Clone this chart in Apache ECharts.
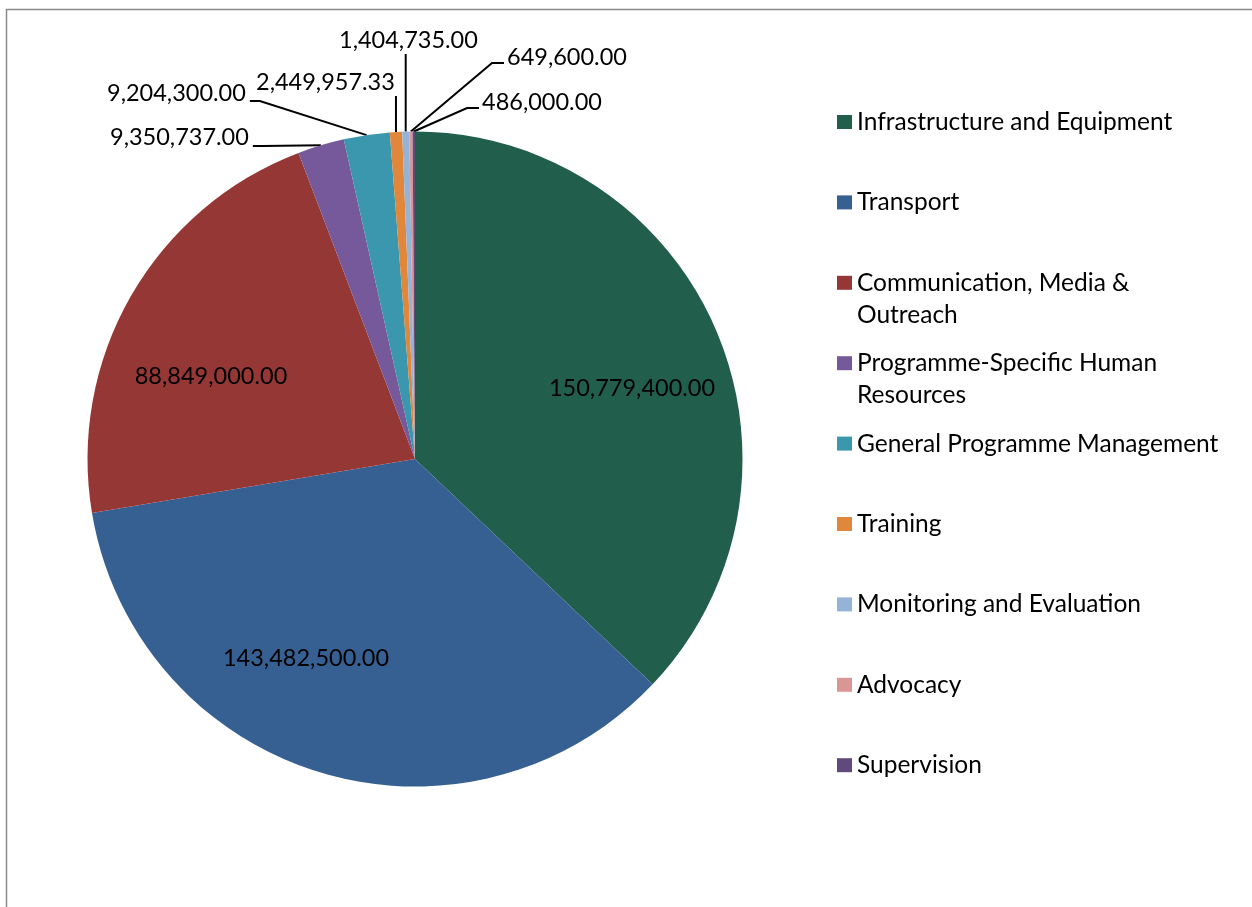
<!DOCTYPE html>
<html>
<head>
<meta charset="utf-8">
<script src="https://cdn.jsdelivr.net/npm/echarts@6/dist/echarts.min.js"></script>
<style>
  html, body { margin: 0; padding: 0; background: #fff; }
  #chart { width: 1252px; height: 907px; }
</style>
</head>
<body>
<div id="chart"></div>
<script>
const categories = [
  'Infrastructure and Equipment',
  'Transport',
  'Communication, Media & Outreach',
  'Programme-Specific Human Resources',
  'General Programme Management',
  'Training',
  'Monitoring and Evaluation',
  'Advocacy',
  'Supervision'
];
const amounts = [150779400, 143482500, 88849000, 9350737, 9204300, 2449957.33, 1404735, 649600, 486000];
const colors = ['#215e4b', '#376092', '#953735', '#76599a', '#3a97ad', '#e0873b', '#95b3d7', '#d99694', '#604a7b'];

// legend lines that wrap onto a second line
// (leading blank line keeps the marker level with the first line)
const wrapped = {
  'Communication, Media & Outreach': '\nCommunication, Media &\nOutreach',
  'Programme-Specific Human Resources': '\nProgramme-Specific Human\nResources'
};

// where each value label sits (text centre y); line: how the leader leaves the label
const labelSpots = [
  { x: 632, y: 388, align: 'center' },
  { x: 306, y: 658, align: 'center' },
  { x: 211, y: 376, align: 'center' },
  { x: 110, y: 137, align: 'left', line: 'right', dy: 9 },
  { x: 107, y: 93, align: 'left', line: 'right', dy: 8 },
  { x: 256, y: 82, align: 'left', line: 'down' },
  { x: 339, y: 40, align: 'left', line: 'down' },
  { x: 507, y: 57, align: 'left', line: 'left', dy: 6 },
  { x: 482, y: 102, align: 'left', line: 'left', dy: 6 }
];

const font = 'Lato, "Open Sans", sans-serif';
const fmt = v => v.toLocaleString('en-US', { minimumFractionDigits: 2, maximumFractionDigits: 2 });

const chart = echarts.init(document.getElementById('chart'));

const legendFirst = 122, legendStep = 80.4;

chart.setOption({
  backgroundColor: '#fff',
  animation: false,
  color: colors,
  graphic: [{
    type: 'rect',
    shape: { x: 6.5, y: 9.5, width: 1400, height: 1000 },
    style: { fill: 'none', stroke: '#8a8a8a', lineWidth: 1.5 },
    silent: true
  }],
  legend: categories.map((name, i) => {
    const two = !!wrapped[name];
    const center = legendFirst + i * legendStep;
    return {
      data: [name],
      left: 837,
      top: center - (two ? 48 : 16),
      padding: 0,
      icon: 'rect',
      itemWidth: 15,
      itemHeight: 14,
      selectedMode: false,
      formatter: n => wrapped[n] || n,
      textStyle: {
        fontFamily: font,
        fontSize: 24.5,
        color: '#000',
        lineHeight: 32
      }
    };
  }),
  series: [{
    type: 'pie',
    center: [415, 459],
    radius: 327.5,
    startAngle: 90,
    clockwise: true,
    avoidLabelOverlap: false,
    emphasis: { disabled: true },
    itemStyle: { borderWidth: 0 },
    label: {
      formatter: p => fmt(p.value),
      fontFamily: font,
      fontSize: 23.5,
      color: '#000'
    },
    labelLine: {
      lineStyle: { color: '#000', width: 2 },
      length: 10,
      length2: 10
    },
    labelLayout: p => {
      const s = labelSpots[p.dataIndex];
      const out = { x: s.x, y: s.y, align: s.align, verticalAlign: 'middle' };
      if (s.line && p.labelLinePoints) {
        const start = p.labelLinePoints[0];
        const w = p.labelRect.width;
        let bend, end;
        if (s.line === 'right') {
          end = [s.x + w + 4, s.y + s.dy];
          bend = [end[0] + 10, end[1]];
        } else if (s.line === 'left') {
          end = [s.x - 3, s.y + s.dy];
          bend = [end[0] - 12, end[1]];
        } else {
          end = [start[0], s.y + 14];
          bend = [start[0], s.y + 24];
        }
        out.labelLinePoints = [start, bend, end];
      }
      return out;
    },
    data: categories.map((name, i) => ({
      name,
      value: amounts[i],
      label: { position: i < 3 ? 'inside' : 'outside' },
      labelLine: { show: i >= 3 }
    }))
  }]
});
</script>
</body>
</html>
